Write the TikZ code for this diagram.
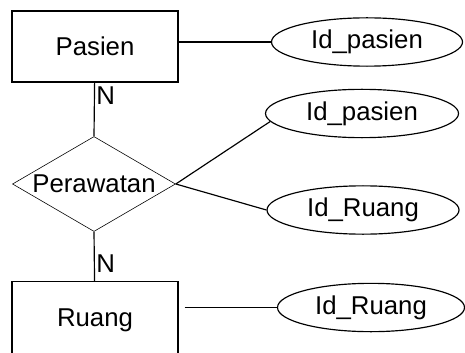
\documentclass[tikz,border=0pt]{standalone}
\usepackage{fontspec}
\setmainfont{Liberation Sans}
\usetikzlibrary{shapes.geometric}

\begin{document}
\begin{tikzpicture}[
        every node/.style={font=\fontsize{22}{26}\selectfont},
        entitas/.style={shape=rectangle,draw=black,line width=1pt,minimum width=4.98cm,minimum height=2.13cm},
        atribut/.style={shape=ellipse,draw=black,line width=1pt,inner sep=0pt,minimum height=1.45cm},
        relasi/.style={shape=diamond,draw=black,line width=0.5pt,inner sep=0pt,minimum width=4.89cm,minimum height=2.85cm},
        garis/.style={line width=1pt}
    ]
        \useasboundingbox (0,0) rectangle (13.95,10.56);

        \node[entitas] (Pasien) at (2.85,9.165) {Pasien};
        \node[entitas,minimum height=2.33cm] (Ruang) at (2.85,0.95) {Ruang};
        \node[relasi,label=center:Perawatan] (Perawatan) at (2.82,5.04) {};

        \node[atribut,minimum width=5.73cm] (IdPasien1) at (11.01,9.3) {Id\_pasien};
        \node[atribut,minimum width=5.79cm] (IdPasien2) at (10.86,7.155) {Id\_pasien};
        \node[atribut,minimum width=5.76cm] (IdRuang1) at (10.89,4.26) {Id\_Ruang};
        \node[atribut,minimum width=5.61cm] (IdRuang2) at (11.13,1.335) {Id\_Ruang};

        \node[anchor=north west,inner sep=1pt,yshift=-0.08cm] (N1) at (Pasien.south) {N};
        \node[anchor=south west,inner sep=1pt,yshift=0.2cm] (N2) at (Ruang.north) {N};

        \path [garis](Pasien.east |- IdPasien1.west) edge (IdPasien1.west);
        \path [garis](Pasien) edge (Perawatan.north);
        \path [garis](Perawatan.south) edge (Ruang);
        \path [garis](Perawatan.east) edge (IdPasien2.185);
        \path [garis](Perawatan.east) edge (IdRuang1.west);
        \path [garis,shorten <=0.18cm](Ruang.east |- IdRuang2.west) edge (IdRuang2.west);
    \end{tikzpicture}
\end{document}
